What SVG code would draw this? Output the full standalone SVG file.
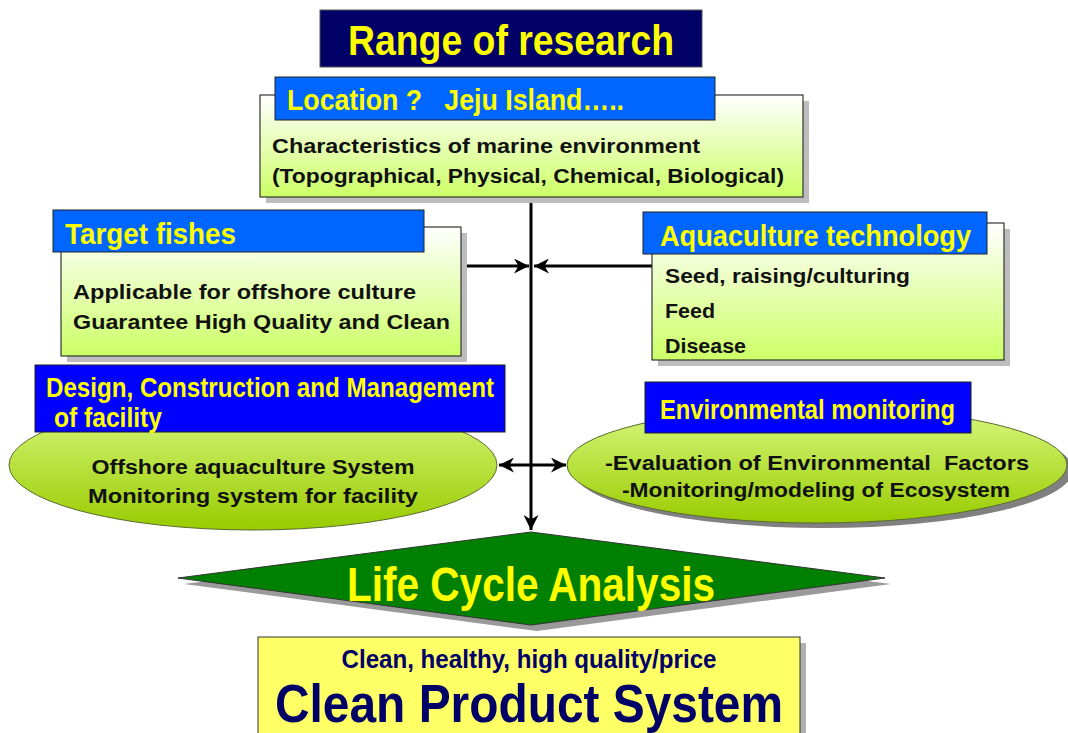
<svg xmlns="http://www.w3.org/2000/svg" width="1068" height="733" viewBox="0 0 1068 733">
  <defs>
    <linearGradient id="boxFill" x1="0" y1="0" x2="0" y2="1">
      <stop offset="0" stop-color="#ffffff"/>
      <stop offset="1" stop-color="#ccff66"/>
    </linearGradient>
    <linearGradient id="ovalFill" x1="0" y1="0" x2="0" y2="1">
      <stop offset="0" stop-color="#d8f880"/>
      <stop offset="1" stop-color="#99cc00"/>
    </linearGradient>
    <marker id="arrowHead" viewBox="0 0 10 10" refX="10" refY="5" markerWidth="5" markerHeight="5" orient="auto-start-reverse" markerUnits="strokeWidth">
      <path d="M0,0 L10,5 L0,10 L3,5 z" fill="#000"/>
    </marker>
  </defs>
  <style>
    text { white-space: pre; }
    .panel { fill: url(#boxFill); stroke: #333; stroke-width: 1.2; }
    .shadow { fill: #bdbdbd; }
    .oval { fill: url(#ovalFill); stroke: #5a6a30; stroke-width: 1; }
    .hdr { stroke: #222; stroke-width: 1; }
    .hdrText { font-family: "Liberation Sans", Arial, sans-serif; font-weight: bold; fill: #ffff00; }
    .body { font-family: "Liberation Sans", Arial, sans-serif; font-weight: bold; fill: #111; font-size: 19.5px; }
    .navy { font-family: "Liberation Sans", Arial, sans-serif; font-weight: bold; fill: #000066; }
    .wire { stroke: #000; stroke-width: 3; fill: none; }
  </style>

  <rect width="1068" height="733" fill="#ffffff"/>

  <!-- title -->
  <g id="title">
    <rect x="320" y="10" width="382" height="57" fill="#000066" stroke="#555" stroke-width="1"/>
    <text class="hdrText" x="511" y="55" font-size="42" text-anchor="middle" textLength="326" lengthAdjust="spacingAndGlyphs">Range of research</text>
  </g>

  <!-- connectors -->
  <g id="connectors">
    <line class="wire" x1="531" y1="197" x2="531" y2="530" marker-end="url(#arrowHead)"/>
    <line class="wire" x1="461" y1="266" x2="529" y2="266" marker-end="url(#arrowHead)"/>
    <line class="wire" x1="652" y1="266" x2="534" y2="266" marker-end="url(#arrowHead)"/>
    <line class="wire" x1="499" y1="465" x2="566" y2="465" marker-start="url(#arrowHead)" marker-end="url(#arrowHead)"/>
  </g>

  <!-- location -->
  <g id="location">
    <rect class="shadow" x="266" y="101" width="543" height="102"/>
    <rect class="panel" x="260" y="95" width="543" height="102"/>
    <rect class="hdr" x="275" y="77" width="440" height="43" fill="#0066ff"/>
    <text class="hdrText" x="287" y="110" font-size="29" textLength="337" lengthAdjust="spacingAndGlyphs">Location ?   Jeju Island…..</text>
    <text class="body" x="272" y="153" textLength="428" lengthAdjust="spacingAndGlyphs">Characteristics of marine environment</text>
    <text class="body" x="272" y="183" textLength="512" lengthAdjust="spacingAndGlyphs">(Topographical, Physical, Chemical, Biological)</text>
  </g>

  <!-- target fishes -->
  <g id="target-fishes">
    <rect class="shadow" x="67" y="233" width="400" height="129"/>
    <rect class="panel" x="61" y="227" width="400" height="129"/>
    <rect class="hdr" x="53" y="210" width="371" height="42" fill="#0066ff"/>
    <text class="hdrText" x="65" y="244" font-size="30" textLength="171" lengthAdjust="spacingAndGlyphs">Target fishes</text>
    <text class="body" x="73" y="299" textLength="343" lengthAdjust="spacingAndGlyphs">Applicable for offshore culture</text>
    <text class="body" x="73" y="329" textLength="377" lengthAdjust="spacingAndGlyphs">Guarantee High Quality and Clean</text>
  </g>

  <!-- aquaculture technology -->
  <g id="aquaculture-technology">
    <rect class="shadow" x="658" y="229" width="352" height="137"/>
    <rect class="panel" x="652" y="223" width="352" height="137"/>
    <rect class="hdr" x="643" y="212" width="344" height="42" fill="#0066ff"/>
    <text class="hdrText" x="660" y="246" font-size="30" textLength="311" lengthAdjust="spacingAndGlyphs">Aquaculture technology</text>
    <text class="body" x="665" y="283" textLength="245" lengthAdjust="spacingAndGlyphs">Seed, raising/culturing</text>
    <text class="body" x="665" y="318" textLength="50" lengthAdjust="spacingAndGlyphs">Feed</text>
    <text class="body" x="665" y="353" textLength="81" lengthAdjust="spacingAndGlyphs">Disease</text>
  </g>

  <!-- design / facility -->
  <g id="facility-design">
    <ellipse class="oval" cx="253" cy="465" rx="244" ry="65"/>
    <rect class="hdr" x="35" y="365" width="470" height="67" fill="#0000ff"/>
    <text class="hdrText" x="46" y="397" font-size="28" textLength="448" lengthAdjust="spacingAndGlyphs">Design, Construction and Management</text>
    <text class="hdrText" x="54" y="427" font-size="28" textLength="108" lengthAdjust="spacingAndGlyphs">of facility</text>
    <text class="body" x="253" y="474" text-anchor="middle" textLength="323" lengthAdjust="spacingAndGlyphs">Offshore aquaculture System</text>
    <text class="body" x="253" y="503" text-anchor="middle" textLength="330" lengthAdjust="spacingAndGlyphs">Monitoring system for facility</text>
  </g>

  <!-- environmental monitoring -->
  <g id="environmental-monitoring">
    <ellipse cx="823" cy="470" rx="250" ry="58" fill="#808080"/>
    <ellipse class="oval" cx="817" cy="465" rx="250" ry="58"/>
    <rect class="hdr" x="645" y="382" width="326" height="51" fill="#0000ff"/>
    <text class="hdrText" x="660" y="419" font-size="28" textLength="295" lengthAdjust="spacingAndGlyphs">Environmental monitoring</text>
    <text class="body" x="605" y="470" textLength="424" lengthAdjust="spacingAndGlyphs">-Evaluation of Environmental  Factors</text>
    <text class="body" x="622" y="497" textLength="388" lengthAdjust="spacingAndGlyphs">-Monitoring/modeling of Ecosystem</text>
  </g>

  <!-- life cycle analysis -->
  <g id="life-cycle-analysis">
    <polygon points="184,584 537,538 891,584 537,631" fill="#9a9a9a"/>
    <polygon points="178,578 531,532 885,578 531,625" fill="#008000" stroke="#333" stroke-width="1"/>
    <text class="hdrText" x="531" y="601" font-size="48" text-anchor="middle" textLength="368" lengthAdjust="spacingAndGlyphs">Life Cycle Analysis</text>
  </g>

  <!-- clean product system -->
  <g id="clean-product">
    <rect x="264" y="643" width="542" height="100" fill="#b0b0b0"/>
    <rect x="258" y="637" width="542" height="110" fill="#ffff66" stroke="#333" stroke-width="1"/>
    <text class="navy" x="529" y="668" font-size="26" text-anchor="middle" textLength="375" lengthAdjust="spacingAndGlyphs" font-weight="normal">Clean, healthy, high quality/price</text>
    <text class="navy" x="529" y="722" font-size="53" text-anchor="middle" textLength="508" lengthAdjust="spacingAndGlyphs">Clean Product System</text>
  </g>
</svg>
